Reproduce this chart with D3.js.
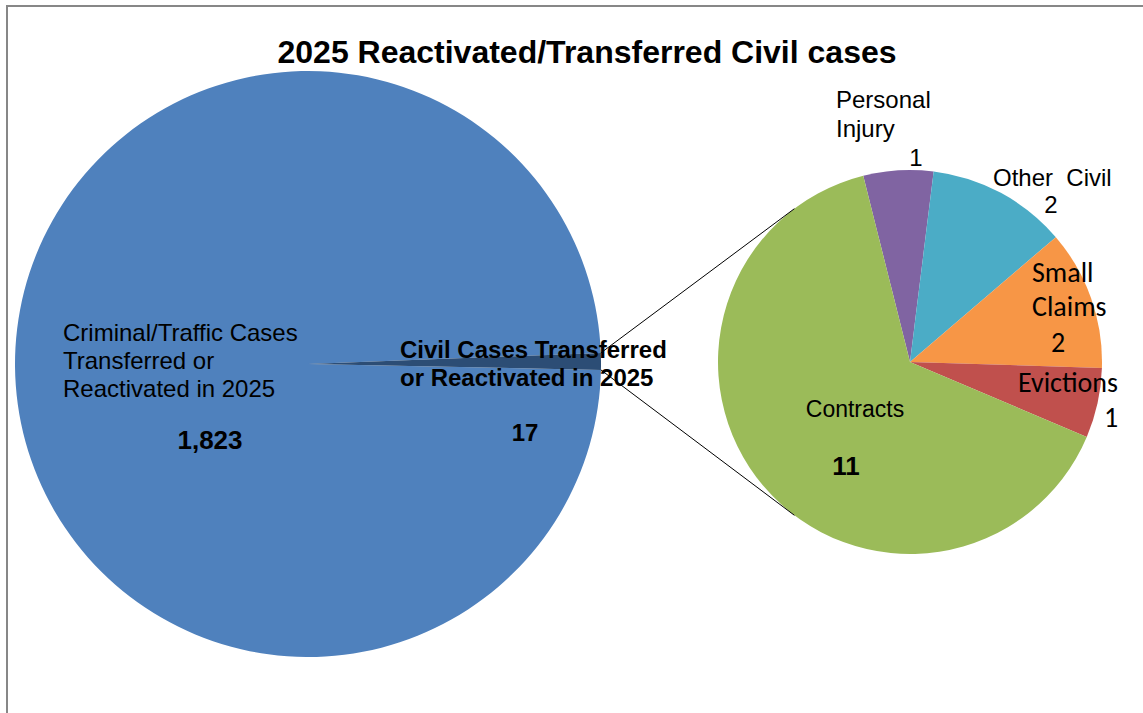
<!DOCTYPE html>
<html>
<head>
<meta charset="utf-8">
<script src="https://cdn.jsdelivr.net/npm/d3@7"></script>
<style>
  body { margin: 0; background: #fff; }
  svg text { font-family: "Liberation Sans", Arial, sans-serif; fill: #000; }
</style>
</head>
<body>
<div id="chart"></div>
<script>
// Data
const mainCategories = ["Criminal/Traffic Cases Transferred or Reactivated in 2025", "Civil Cases Transferred or Reactivated in 2025"];
const mainValues = [1823, 17];
const civilCategories = ["Personal Injury", "Other  Civil", "Small Claims", "Evictions", "Contracts"];
const civilValues = [1, 2, 2, 1, 11];

const mainColors = ["#4f81bd", "#2c4d75"];
const civilColors = ["#8064a2", "#4bacc6", "#f79646", "#c0504d", "#9bbb59"];

const width = 1143, height = 713;
const deg = Math.PI / 180;

// pie geometry
const big = { cx: 308, cy: 364, r: 293 };
const small = { cx: 910, cy: 362, r: 192 };

const svg = d3.select("#chart").append("svg")
  .attr("width", width)
  .attr("height", height);

// chart frame
svg.append("rect")
  .attr("x", 7).attr("y", 6)
  .attr("width", 1160).attr("height", 730)
  .attr("fill", "none")
  .attr("stroke", "#878787")
  .attr("stroke-width", 2);

svg.append("text")
  .attr("x", 587).attr("y", 63)
  .attr("text-anchor", "middle")
  .style("font-size", "32px")
  .style("font-weight", "bold")
  .text("2025 Reactivated/Transferred Civil cases");

// main pie: the civil slice is centred just above the right horizontal
const civilSpan = mainValues[1] / d3.sum(mainValues) * 2 * Math.PI;
const civilEnd = 90 * deg + civilSpan / 2 - 0.5 * deg;
const mainPie = d3.pie().sort(null)
  .startAngle(civilEnd)
  .endAngle(civilEnd + 2 * Math.PI);
const mainArcs = mainPie(mainValues);
const bigArc = d3.arc().innerRadius(0).outerRadius(big.r);

svg.append("g")
  .attr("transform", `translate(${big.cx},${big.cy})`)
  .selectAll("path")
  .data(mainArcs)
  .join("path")
  .attr("d", bigArc)
  .attr("fill", (d, i) => mainColors[i]);

// secondary pie
const civilPie = d3.pie().sort(null)
  .startAngle(-14.1 * deg)
  .endAngle(-14.1 * deg + 2 * Math.PI);
const civilArcs = civilPie(civilValues);
const smallArc = d3.arc().innerRadius(0).outerRadius(small.r);

svg.append("g")
  .attr("transform", `translate(${small.cx},${small.cy})`)
  .selectAll("path")
  .data(civilArcs)
  .join("path")
  .attr("d", smallArc)
  .attr("fill", (d, i) => civilColors[i]);

// connector lines from the civil slice to the secondary pie
const polar = (c, r, a) => [c.cx + r * Math.sin(a), c.cy - r * Math.cos(a)];
const civilSlice = mainArcs[1];
const connectors = [
  [polar(big, big.r, civilSlice.startAngle), polar(small, small.r, -37 * deg)],
  [polar(big, big.r, civilSlice.endAngle), polar(small, small.r, 217 * deg)]
];
svg.append("g").selectAll("line")
  .data(connectors)
  .join("line")
  .attr("x1", d => d[0][0]).attr("y1", d => d[0][1])
  .attr("x2", d => d[1][0]).attr("y2", d => d[1][1])
  .attr("stroke", "#000")
  .attr("stroke-width", 1);

// labels placed by hand, like the original
const arial = "'Liberation Sans', Arial, sans-serif";
const calibri = "Carlito, Lato, 'Open Sans', sans-serif";
const fmt = d3.format(",");

const labelLayout = [
  { lines: ["Criminal/Traffic Cases", "Transferred or", "Reactivated in 2025"], x: 63, y: 341, lh: 28, anchor: "start", size: 24, weight: "normal", font: arial },
  { lines: [fmt(mainValues[0])], x: 210, y: 449, lh: 0, anchor: "middle", size: 26, weight: "bold", font: arial },
  { lines: ["Civil Cases Transferred", "or Reactivated in 2025"], x: 400, y: 358, lh: 28, anchor: "start", size: 24, weight: "bold", font: arial },
  { lines: [fmt(mainValues[1])], x: 525, y: 441, lh: 0, anchor: "middle", size: 24, weight: "bold", font: arial },
  { lines: ["Personal", "Injury"], x: 836, y: 108, lh: 29, anchor: "start", size: 24, weight: "normal", font: arial },
  { lines: [String(civilValues[0])], x: 916, y: 166, lh: 0, anchor: "middle", size: 24, weight: "normal", font: arial },
  { lines: ["Other  Civil"], x: 993, y: 186, lh: 0, anchor: "start", size: 24, weight: "normal", font: arial, space: true },
  { lines: [String(civilValues[1])], x: 1051, y: 213, lh: 0, anchor: "middle", size: 24, weight: "normal", font: arial },
  { lines: ["Small", "Claims"], x: 1032, y: 282, lh: 34, anchor: "start", size: 28, weight: "normal", font: calibri },
  { lines: [String(civilValues[2])], x: 1058, y: 352, lh: 0, anchor: "middle", size: 28, weight: "normal", font: calibri },
  { lines: ["Evictions"], x: 1018, y: 392, lh: 0, anchor: "start", size: 28, weight: "normal", font: calibri },
  { lines: [String(civilValues[3])], x: 1111, y: 427, lh: 0, anchor: "middle", size: 28, weight: "normal", font: calibri },
  { lines: ["Contracts"], x: 855, y: 417, lh: 0, anchor: "middle", size: 23, weight: "normal", font: arial },
  { lines: [String(civilValues[4])], x: 846, y: 475, lh: 0, anchor: "middle", size: 26, weight: "bold", font: arial }
];

const labels = svg.append("g");
labelLayout.forEach(l => {
  const t = labels.append("text")
    .attr("x", l.x).attr("y", l.y)
    .attr("text-anchor", l.anchor)
    .style("font-size", l.size + "px")
    .style("font-weight", l.weight)
    .style("font-family", l.font)
    .style("white-space", l.space ? "pre" : null);
  l.lines.forEach((s, i) => {
    t.append("tspan")
      .attr("x", l.x)
      .attr("dy", i === 0 ? 0 : l.lh)
      .text(s);
  });
});
</script>
</body>
</html>
